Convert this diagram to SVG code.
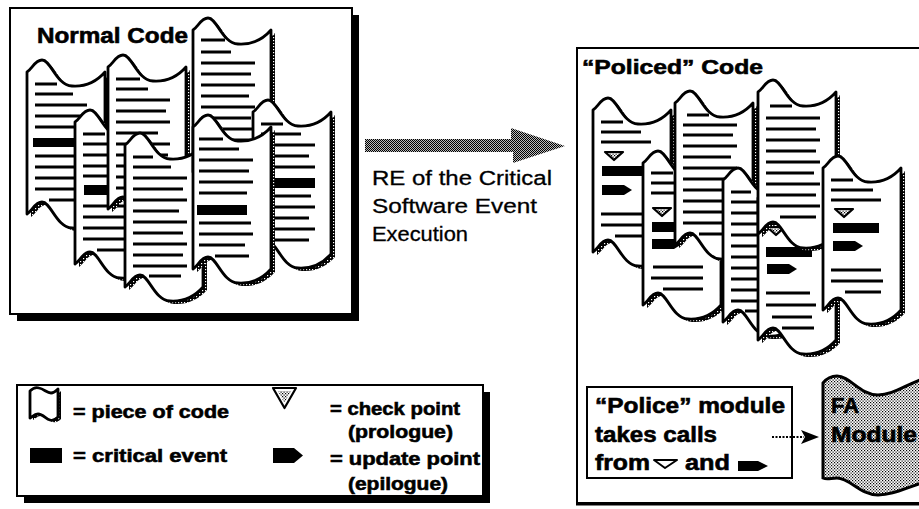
<svg xmlns="http://www.w3.org/2000/svg" xmlns:xlink="http://www.w3.org/1999/xlink" width="919" height="509" viewBox="0 0 919 509">
  <style>
    .pg { fill: #fff; stroke: #000; stroke-width: 2.8; stroke-linejoin: round; }
    .sh { fill: url(#shd); }
    .ln { fill: none; stroke: #000; stroke-width: 2.8; }
    .bar { fill: #000; }
    .chk { fill: url(#lite); stroke: #000; stroke-width: 2.2; stroke-linejoin: round; }
    .upd { fill: #000; }
    .frame { fill: #fff; stroke: #000; stroke-width: 2; }
    .t { font-family: "Liberation Sans", Arial, sans-serif; font-weight: bold; fill: #000; stroke: #000; stroke-width: 0.6; }
    .r { font-family: "Liberation Sans", Arial, sans-serif; font-weight: normal; fill: #000; stroke: #000; stroke-width: 0.3; }
  </style>
  <defs>
    <!-- dark edge shading behind each sheet -->
    <pattern id="shd" width="3" height="3" patternUnits="userSpaceOnUse">
      <rect width="3" height="3" fill="#000"/>
      <rect x="1" y="1" width="1.2" height="1.2" fill="#fff"/>
    </pattern>
    <!-- halftone fills -->
    <pattern id="half" width="2" height="2" patternUnits="userSpaceOnUse">
      <rect width="2" height="2" fill="#bbb"/>
      <rect width="1" height="1" fill="#000"/>
      <rect x="1" y="1" width="1" height="1" fill="#000"/>
    </pattern>
    <pattern id="lite" width="3" height="3" patternUnits="userSpaceOnUse">
      <rect width="3" height="3" fill="#fff"/>
      <rect width="1.2" height="1.2" fill="#000"/>
      <rect x="1.5" y="1.5" width="1.2" height="1.2" fill="#000"/>
    </pattern>
    <!-- one sheet of code: wavy top and bottom edges -->
    <path id="page" d="M0,0 c 5,-3 8,-12 15,-12 c 9,0 14,25 30,26 c 15,1 26,-6 33,-14 v 142 c -7,8 -18,15 -33,14 c -16,-1 -21,-26 -30,-26 c -7,0 -10,9 -15,12 z"/>
    <polygon id="tri" points="0,0 18,0 9,8"/>
    <path id="upd" d="M0,0 h22 l8,5 l-8,5 h-22 z"/>
  </defs>

  <rect width="919" height="509" fill="#fff"/>

  <!-- left panel: unmodified code -->
  <g id="normal-code">
    <rect x="17" y="15" width="342" height="306" fill="#000"/>
    <rect class="frame" x="10" y="8" width="342" height="306"/>
    <text class="t" x="37" y="43" font-size="22" textLength="151" lengthAdjust="spacingAndGlyphs">Normal Code</text>

    <g id="sheet-n1" transform="translate(27,72)">
      <use xlink:href="#page" class="sh" x="4" y="3"/>
      <use xlink:href="#page" class="pg"/>
      <path class="ln" d="M8,12h22 M8,22h38 M8,33h52 M8,44h48 M8,55h52 M8,84h50 M8,95h52 M8,106h46 M8,117h52 M22,128h36"/>
      <rect class="bar" x="6" y="66" width="46" height="9"/>
    </g>
    <g id="sheet-n2" transform="translate(75,122)">
      <use xlink:href="#page" class="sh" x="4" y="3"/>
      <use xlink:href="#page" class="pg"/>
      <path class="ln" d="M8,12h22 M8,22h36 M8,33h50 M8,44h48 M8,54h52 M8,84h50 M8,95h52 M8,106h44 M8,117h52 M22,128h34"/>
      <rect class="bar" x="9" y="63" width="44" height="10"/>
    </g>
    <g id="sheet-n3" transform="translate(108,67)">
      <use xlink:href="#page" class="sh" x="4" y="3"/>
      <use xlink:href="#page" class="pg"/>
      <path class="ln" d="M8,12h24 M8,22h32 M8,33h54 M8,44h50 M8,55h54 M8,66h42 M8,77h54 M8,88h52 M8,99h54 M8,110h48 M8,121h54 M24,131h32"/>
    </g>
    <g id="sheet-n4" transform="translate(125,145)">
      <use xlink:href="#page" class="sh" x="4" y="3"/>
      <use xlink:href="#page" class="pg"/>
      <path class="ln" d="M8,12h20 M8,22h38 M8,33h54 M8,44h50 M8,55h54 M8,66h46 M8,77h54 M8,88h50 M8,99h54 M8,110h50 M8,121h54 M24,131h32"/>
    </g>
    <g id="sheet-n5" transform="translate(193,30)">
      <use xlink:href="#page" class="sh" x="4" y="3"/>
      <use xlink:href="#page" class="pg"/>
      <path class="ln" d="M8,10h24 M8,22h30 M8,33h54 M8,44h50 M8,55h54 M8,66h48 M8,77h54 M8,88h50 M8,99h54 M8,110h50"/>
    </g>
    <g id="sheet-n6" transform="translate(253,112)">
      <use xlink:href="#page" class="sh" x="4" y="3"/>
      <use xlink:href="#page" class="pg"/>
      <path class="ln" d="M8,12h22 M8,22h40 M8,33h54 M8,44h48 M8,55h54 M8,84h50 M8,95h54 M8,106h48 M8,117h54 M22,128h34"/>
      <rect class="bar" x="12" y="66" width="50" height="10"/>
    </g>
    <g id="sheet-n7" transform="translate(193,127)">
      <use xlink:href="#page" class="sh" x="4" y="3"/>
      <use xlink:href="#page" class="pg"/>
      <path class="ln" d="M6,12h24 M6,22h40 M6,33h54 M6,44h50 M6,55h54 M6,66h48 M6,96h52 M6,107h54 M6,118h46 M22,129h34"/>
      <rect class="bar" x="4" y="78" width="50" height="10"/>
    </g>
  </g>

  <!-- transformation label -->
  <g id="re-label">
    <text class="r" x="372" y="185" font-size="20" textLength="180" lengthAdjust="spacingAndGlyphs">RE of the Critical</text>
    <text class="r" x="372" y="213" font-size="20" textLength="165" lengthAdjust="spacingAndGlyphs">Software Event</text>
    <text class="r" x="372" y="241" font-size="20" textLength="96" lengthAdjust="spacingAndGlyphs">Execution</text>
  </g>

  <!-- right panel: instrumented code -->
  <g id="policed-code">
    <rect class="frame" x="577" y="48" width="345" height="455"/>
    <line x1="576" y1="504" x2="919" y2="504" stroke="#000" stroke-width="3"/>
    <text class="t" x="582" y="74" font-size="21" textLength="181" lengthAdjust="spacingAndGlyphs">“Policed” Code</text>

    <g id="sheet-p1" transform="translate(593,110)">
      <use xlink:href="#page" class="sh" x="4" y="3"/>
      <use xlink:href="#page" class="pg"/>
      <path class="ln" d="M8,12h22 M8,22h40 M8,32h50 M8,104h48 M8,115h52 M22,126h34"/>
      <use xlink:href="#tri" class="chk" x="12" y="42"/>
      <rect class="bar" x="9" y="56" width="46" height="10"/>
      <use xlink:href="#upd" class="upd" x="9" y="75"/>
    </g>
    <g id="sheet-p2" transform="translate(643,163)">
      <use xlink:href="#page" class="sh" x="4" y="3"/>
      <use xlink:href="#page" class="pg"/>
      <path class="ln" d="M8,10h22 M8,20h42 M8,30h48 M10,104h50 M8,115h52 M20,126h40"/>
      <use xlink:href="#tri" class="chk" x="10" y="45"/>
      <rect class="bar" x="9" y="59" width="46" height="10"/>
      <use xlink:href="#upd" class="upd" x="9" y="76"/>
    </g>
    <g id="sheet-p3" transform="translate(675,103)">
      <use xlink:href="#page" class="sh" x="4" y="3"/>
      <use xlink:href="#page" class="pg"/>
      <path class="ln" d="M12,12h22 M8,22h54 M8,32h50 M8,43h54 M8,54h48 M8,65h54 M8,76h50 M8,87h54 M8,98h48 M8,109h54 M8,120h50 M24,131h32"/>
    </g>
    <g id="sheet-p4" transform="translate(723,180)">
      <use xlink:href="#page" class="sh" x="4" y="3"/>
      <use xlink:href="#page" class="pg"/>
      <path class="ln" d="M8,12h20 M8,22h40 M8,33h52 M8,44h50 M8,55h54 M8,66h48 M8,77h54 M8,88h50 M8,99h54 M8,110h48 M8,121h54 M22,131h34"/>
    </g>
    <g id="sheet-p5" transform="translate(758,198)">
      <use xlink:href="#page" class="sh" x="4" y="3"/>
      <use xlink:href="#page" class="pg"/>
      <path class="ln" d="M8,95h44 M8,107h50 M14,119h40 M24,130h32"/>
      <use xlink:href="#tri" class="chk" x="9" y="29"/>
      <rect class="bar" x="8" y="49" width="46" height="10"/>
      <use xlink:href="#upd" class="upd" x="9" y="66"/>
    </g>
    <g id="sheet-p6" transform="translate(758,92)">
      <use xlink:href="#page" class="sh" x="4" y="3"/>
      <use xlink:href="#page" class="pg"/>
      <path class="ln" d="M12,14h22 M8,26h54 M8,37h50 M8,48h54 M8,59h50 M8,70h54 M8,81h48 M8,92h54 M8,103h50 M8,114h54 M22,125h36"/>
    </g>
    <g id="sheet-p7" transform="translate(823,168)">
      <use xlink:href="#page" class="sh" x="4" y="3"/>
      <use xlink:href="#page" class="pg"/>
      <path class="ln" d="M8,12h22 M8,22h42 M8,32h50 M8,102h50 M8,113h52 M22,124h36"/>
      <use xlink:href="#tri" class="chk" x="12" y="41"/>
      <rect class="bar" x="10" y="55" width="46" height="10"/>
      <use xlink:href="#upd" class="upd" x="10" y="73"/>
    </g>
  </g>

  <!-- police module -->
  <g id="police-module">
    <rect x="587" y="387" width="205" height="91" fill="#fff" stroke="#000" stroke-width="2"/>
    <text class="t" x="595" y="413" font-size="22" textLength="190" lengthAdjust="spacingAndGlyphs">“Police” module</text>
    <text class="t" x="595" y="442" font-size="22" textLength="122" lengthAdjust="spacingAndGlyphs">takes calls</text>
    <text class="t" x="595" y="470" font-size="22" textLength="55" lengthAdjust="spacingAndGlyphs">from</text>
    <polygon points="654,460 677,460 665,468" fill="#fff" stroke="#000" stroke-width="2" stroke-linejoin="round"/>
    <text class="t" x="685" y="470" font-size="22" textLength="45" lengthAdjust="spacingAndGlyphs">and</text>
    <path d="M738,461 h20 l10,5 l-10,5 h-20 z" fill="#000"/>
  </g>

  <!-- FA module -->
  <g id="fa-module">
    <path d="M823,383 C827,378 831,376 837,376 C850,376 860,395 878,395 C893,395 905,385 925,378 L925,482 C905,488 893,495 878,495 C860,495 850,478 837,478 C831,478 827,480 823,478 Z" fill="url(#lite)" stroke="#000" stroke-width="3"/>
    <text class="t" x="831" y="413" font-size="22" textLength="28" lengthAdjust="spacingAndGlyphs">FA</text>
    <text class="t" x="831" y="442" font-size="22" textLength="86" lengthAdjust="spacingAndGlyphs">Module</text>
  </g>

  <!-- legend -->
  <g id="legend">
    <rect x="24" y="392" width="466" height="111" fill="#000"/>
    <rect class="frame" x="17" y="385" width="466" height="111"/>
    <g transform="translate(30,391)">
      <path d="M0,0 c3,-3 6,-4 9,-3 c5,1 8,5 12,5 c3,0 5,-2 7,-4 v28 c-2,2 -5,4 -8,3 c-4,-1 -7,-6 -12,-6 c-3,0 -5,2 -8,4 z" fill="url(#shd)" transform="translate(3,2)"/>
      <path d="M0,0 c3,-3 6,-4 9,-3 c5,1 8,5 12,5 c3,0 5,-2 7,-4 v28 c-2,2 -5,4 -8,3 c-4,-1 -7,-6 -12,-6 c-3,0 -5,2 -8,4 z" class="pg"/>
    </g>
    <text class="t" x="73" y="418" font-size="19" textLength="156" lengthAdjust="spacingAndGlyphs">= piece of code</text>
    <rect x="30" y="448" width="32" height="15" fill="#000"/>
    <text class="t" x="73" y="462" font-size="19" textLength="154" lengthAdjust="spacingAndGlyphs">= critical event</text>
    <polygon points="273,388 296,388 284.5,408" fill="#fff" stroke="#000" stroke-width="2.2" stroke-linejoin="round"/>
    <polygon points="278,391 291,391 284.5,403" fill="url(#lite)"/>
    <text class="t" x="330" y="415" font-size="19" textLength="130" lengthAdjust="spacingAndGlyphs">= check point</text>
    <text class="t" x="348" y="438" font-size="19" textLength="105" lengthAdjust="spacingAndGlyphs">(prologue)</text>
    <path d="M273,448 h21 l9,7.5 l-9,7.5 h-21 z" fill="#000"/>
    <text class="t" x="330" y="465" font-size="19" textLength="150" lengthAdjust="spacingAndGlyphs">= update point</text>
    <text class="t" x="348" y="490" font-size="19" textLength="100" lengthAdjust="spacingAndGlyphs">(epilogue)</text>
  </g>

  <!-- connectors -->
  <g id="connectors">
    <polygon points="365,139 511,139 511,128 565,146 513,163 513,152 365,152" fill="url(#half)"/>
    <line x1="772" y1="437" x2="804" y2="437" stroke="#000" stroke-width="2" stroke-dasharray="2 1.5"/>
    <polygon points="801,430 819,437 801,444 805,437" fill="#000"/>
  </g>
</svg>
